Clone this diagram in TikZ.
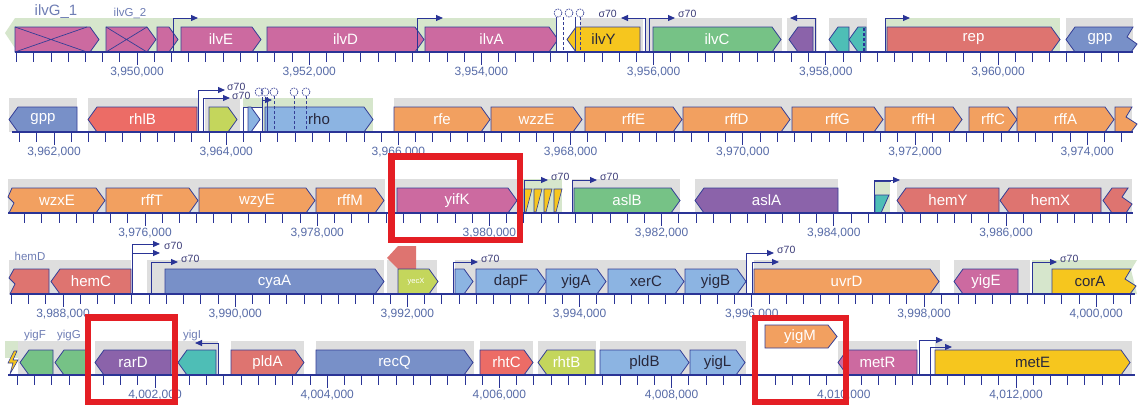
\documentclass[tikz,border=0pt]{standalone}
\usepackage{fontspec}
\setmainfont{Liberation Sans}
\usetikzlibrary{arrows.meta}
\definecolor{pk}{RGB}{204,106,160}
\definecolor{yl}{RGB}{246,198,30}
\definecolor{gn}{RGB}{118,194,134}
\definecolor{pu}{RGB}{139,99,170}
\definecolor{tl}{RGB}{78,190,182}
\definecolor{sa}{RGB}{222,116,112}
\definecolor{sr}{RGB}{236,108,102}
\definecolor{bl}{RGB}{120,144,200}
\definecolor{lb}{RGB}{140,180,226}
\definecolor{orc}{RGB}{242,160,96}
\definecolor{yg}{RGB}{196,214,92}
\definecolor{gy}{RGB}{222,222,222}
\definecolor{lg}{RGB}{214,230,204}
\definecolor{ol}{RGB}{52,62,150}
\definecolor{ax}{RGB}{42,52,150}
\definecolor{tk}{RGB}{88,108,168}
\definecolor{dt}{RGB}{40,40,60}
\definecolor{hl}{RGB}{228,30,36}
\definecolor{sg}{RGB}{60,60,120}
\definecolor{ab}{RGB}{110,125,180}
\tikzset{
 gbox/.style={draw=ol,line width=0.8pt,line join=miter},
 glab/.style={font=\fontsize{15}{15}\selectfont,inner sep=0pt},
 tlab/.style={font=\fontsize{12}{12}\selectfont,text=tk,inner sep=0pt},
 slab/.style={font=\fontsize{10.5}{10.5}\selectfont,text=sg,inner sep=0pt},
 alab/.style={font=\fontsize{11.5}{11.5}\selectfont,text=ab,inner sep=0pt},
 prom/.style={draw=ax,line width=1pt,-{Triangle[length=7pt,width=6pt]}},
 hbox/.style={draw=hl,line width=6.5pt},
 axl/.style={draw=ax,line width=2.2pt},
 tkst/.style={draw=ax,line width=0.8pt},
 term/.style={draw=ol,line width=0.7pt,fill=white,dash pattern=on 1.5pt off 1pt},
 stem/.style={draw=ol,line width=0.8pt},
 dstem/.style={draw=ol,line width=1pt,dash pattern=on 3pt off 2pt},
}
\newcommand{\gR}[6]{\draw[gbox,fill=#4] (#1,#3) -- (#1,#3-25) -- (#2-9,#3-25) -- (#2,#3-12.5) -- (#2-9,#3) -- cycle;
 \node[glab,text=#5] at ({(#1+#2)/2},#3-12.5) {#6};}
\newcommand{\gL}[6]{\draw[gbox,fill=#4] (#1,#3-12.5) -- (#1+9,#3-25) -- (#2,#3-25) -- (#2,#3) -- (#1+9,#3) -- cycle;
 \node[glab,text=#5] at ({(#1+#2)/2},#3-12.5) {#6};}
\newcommand{\bnd}[4]{\fill[#4] (#1,#3-34) rectangle (#2,#3);}
\newcommand{\tkrow}[4]{\foreach \i in {#3,...,#4}{\draw[tkst] ({#2+\i*17.22},#1) -- ({#2+\i*17.22},#1+10);}}
\newcommand{\mlab}[3]{\draw[tkst] (#1,#2) -- (#1,#2+13); \node[tlab] at (#1,#2+20) {#3};}
\begin{document}
\begin{tikzpicture}[x=1pt,y=-1pt]
\useasboundingbox (0,0) rectangle (1139,410);
\fill[white] (0,0) rectangle (1139,410);
% ================= ROW 1 (axis 52)
\fill[lg] (5,33) -- (15,18) -- (557,18) -- (557,52) -- (15,52) -- (15,48) -- cycle;
\bnd{580}{643}{52}{gy} \bnd{645}{782}{52}{gy} \bnd{787}{817}{52}{gy}
\bnd{829}{867}{52}{gy} \bnd{885}{1060}{52}{lg} \bnd{1066}{1133}{52}{gy}
\node[alab,font=\fontsize{15}{15}\selectfont] at (56,12) {ilvG\_1};
\node[alab] at (130,13) {ilvG\_2};
\gR{15}{99}{52}{pk}{white}{}
\draw[ol,line width=0.7pt] (15,27) -- (87,52) (15,52) -- (87,27);
\gR{106}{156}{52}{pk}{white}{}
\draw[ol,line width=0.7pt] (106,27) -- (147,52) (106,52) -- (147,27);
\gR{157}{178}{52}{pk}{white}{}
\gR{181}{261}{52}{pk}{white}{ilvE}
\gR{267}{424}{52}{pk}{white}{ilvD}
\gR{425}{558}{52}{pk}{white}{ilvA}
\fill[white] (556,18) rectangle (576,52);
\gL{567}{640}{52}{yl}{dt}{ilvY}
\draw[stem] (556,17) -- (556,52) (575,17) -- (575,52);
\draw[dstem] (563,17) -- (563,52) (580,17) -- (580,52);
\draw[term] (558,13) circle (4pt) (569,13) circle (4pt) (580,13) circle (4pt);
\gR{653}{781}{52}{gn}{white}{ilvC}
\gL{789}{813}{52}{pu}{white}{}
\gL{829}{849}{52}{tl}{white}{}
\gL{849}{866}{52}{tl}{white}{}
\draw[dstem,draw=ax,line width=1.4pt] (864,28) -- (864,52);
\gR{887}{1060}{52}{sa}{white}{rep}
\draw[gbox,fill=bl] (1066,39.5) -- (1075,27) -- (1133,27) -- (1127,37) -- (1137,44) -- (1131,52) -- (1075,52) -- cycle;
\node[glab,text=white] at (1100,39.5) {gpp};
\draw[prom] (173,52) -- (173,18) -- (198,18);
\draw[prom] (417,52) -- (417,18) -- (443,18);
\draw[prom] (645,52) -- (645,18) -- (621,18);
\node[slab,anchor=east] at (617,14) {σ70};
\draw[prom] (649,52) -- (649,18) -- (675,18);
\node[slab,anchor=west] at (678,14) {σ70};
\draw[prom] (815,52) -- (815,18) -- (790,18);
\draw[prom] (885,52) -- (885,18) -- (910,18);
\draw[axl] (15,52) -- (1133,52);
\tkrow{52}{137}{-7}{57}
\mlab{137}{52}{3,950,000} \mlab{309.2}{52}{3,952,000} \mlab{481.4}{52}{3,954,000}
\mlab{653.6}{52}{3,956,000} \mlab{825.8}{52}{3,958,000} \mlab{998}{52}{3,960,000}
% ================= ROW 2 (axis 132)
\bnd{9}{77}{132}{gy} \bnd{88}{198}{132}{gy} \bnd{205}{240}{132}{gy}
\bnd{243}{373}{132}{lg} \bnd{394}{1132}{132}{gy}
\gL{9}{77}{132}{bl}{white}{gpp}
\gL{88}{197}{132}{sr}{white}{rhlB}
\gR{209}{237}{132}{yg}{white}{}
\draw[ol,line width=0.6pt,fill=white] (243,107) rectangle (262,132);
\gR{248}{260}{132}{lb}{white}{}
\gR{265}{373}{132}{lb}{dt}{rho}
\draw[stem] (262,97) -- (262,132) (267,97) -- (267,132);
\draw[dstem] (274,96) -- (274,132) (294,96) -- (294,132) (306,96) -- (306,132);
\draw[term] (259,92) circle (4pt) (265,92) circle (4pt) (274,92) circle (4pt) (294,92) circle (4pt) (306,92) circle (4pt);
\draw[prom] (262,132) -- (262,100) -- (272,100);
\draw[prom] (198,132) -- (198,90) -- (225,90);
\node[slab,anchor=west] at (227,87) {σ70};
\draw[prom] (203,132) -- (203,98) -- (230,98);
\node[slab,anchor=west] at (232,96) {σ70};
\gR{394}{490}{132}{orc}{white}{rfe}
\gR{491}{582}{132}{orc}{white}{wzzE}
\gR{585}{682}{132}{orc}{white}{rffE}
\gR{683}{790}{132}{orc}{white}{rffD}
\gR{792}{883}{132}{orc}{white}{rffG}
\gR{885}{962}{132}{orc}{white}{rffH}
\gR{969}{1017}{132}{orc}{white}{rffC}
\gR{1017}{1114}{132}{orc}{white}{rffA}
\draw[gbox,fill=orc] (1115,132) -- (1115,107) -- (1132,107) -- (1126,117) -- (1137,124) -- (1131,132) -- cycle;
\draw[axl] (12,132) -- (1133,132);
\tkrow{132}{54}{-2}{62}
\mlab{54}{132}{3,962,000} \mlab{226.2}{132}{3,964,000} \mlab{398.4}{132}{3,966,000}
\mlab{570.6}{132}{3,968,000} \mlab{742.8}{132}{3,970,000} \mlab{915}{132}{3,972,000}
\mlab{1087.2}{132}{3,974,000}
% ================= ROW 3 (axis 213)
\bnd{8}{385}{213}{gy} \bnd{395}{520}{213}{gy} \bnd{522}{562}{213}{lg}
\bnd{572}{680}{213}{gy} \bnd{695}{838}{213}{gy} \bnd{897}{1132}{213}{gy}
\draw[gbox,fill=orc] (12,188) -- (8,197) -- (14,203) -- (9,213) -- (96,213) -- (105,200.5) -- (96,188) -- cycle;
\node[glab,text=white] at (57,200.5) {wzxE};
\gR{106}{198}{213}{orc}{white}{rffT}
\gR{199}{315}{213}{orc}{white}{wzyE}
\gR{316}{384}{213}{orc}{white}{rffM}
\gR{397}{517}{213}{pk}{white}{yifK}
\foreach \t in {524,534,544,554}{\draw[gbox,fill=yl,line width=0.6pt] (\t,189) -- (\t+8,189) -- (\t+2,212) -- (\t,212) -- cycle;}
\draw[prom] (524,213) -- (524,180) -- (548,180);
\node[slab,anchor=west] at (551,177) {σ70};
\draw[prom] (572,213) -- (572,180) -- (597,180);
\node[slab,anchor=west] at (600,177) {σ70};
\gR{574}{680}{213}{gn}{white}{aslB}
\gL{695}{838}{213}{pu}{white}{aslA}
\draw[ol,line width=0.6pt,fill=lg] (874,181) rectangle (890,213);
\fill[white] (890,182) rectangle (896,212);
\draw[gbox,fill=tl] (875,195) -- (889,195) -- (881,213) -- (875,213) -- cycle;
\draw[prom] (874,213) -- (874,180) -- (900,180);
\gL{897}{999}{213}{sa}{white}{hemY}
\gL{1000}{1101}{213}{sa}{white}{hemX}
\draw[gbox,fill=sa] (1103,200.5) -- (1112,188) -- (1128,188) -- (1122,197) -- (1132,204) -- (1126,213) -- (1112,213) -- cycle;
\draw[axl] (8,213) -- (1133,213);
\tkrow{213}{145}{-7}{57}
\mlab{145}{213}{3,976,000} \mlab{317.2}{213}{3,978,000} \mlab{489.4}{213}{3,980,000}
\mlab{661.6}{213}{3,982,000} \mlab{833.8}{213}{3,984,000} \mlab{1006}{213}{3,986,000}
% ================= ROW 4 (axis 294)
\bnd{9}{131}{294}{gy} \bnd{147}{384}{294}{gy} \bnd{387}{437}{294}{gy}
\bnd{455}{746}{294}{gy} \bnd{754}{940}{294}{gy} \bnd{954}{1030}{294}{gy}
\fill[lg] (1032,260) -- (1137,260) -- (1131,270) -- (1137,294) -- (1032,294) -- cycle;
\node[alab] at (30,256) {hemD};
\draw[gbox,fill=sa] (14,269) -- (9,278) -- (15,284) -- (10,294) -- (49,294) -- (49,269) -- cycle;
\gL{51}{131}{294}{sa}{white}{hemC}
\draw[prom] (132,294) -- (132,244) -- (160,244);
\node[slab,anchor=west] at (164,246) {σ70};
\draw[prom] (132,253) -- (160,253);
\draw[prom] (151,294) -- (151,262) -- (178,262);
\node[slab,anchor=west] at (181,259) {σ70};
\gR{165}{384}{294}{bl}{white}{cyaA}
\draw[gbox,fill=sa,draw=none] (387,258) -- (398,246) -- (416,246) -- (416,269) -- (398,269) -- cycle;
\draw[gbox,fill=yg] (398,294) -- (398,269) -- (429,269) -- (438,281.5) -- (429,294) -- cycle;
\node[font=\fontsize{7.5}{7.5}\selectfont,text=white] at (416,281.5) {yecX};
\draw[prom] (453,294) -- (453,262) -- (478,262);
\node[slab,anchor=west] at (481,259) {σ70};
\gR{455}{473}{294}{lb}{white}{}
\gR{476}{546}{294}{lb}{dt}{dapF}
\gR{546}{606}{294}{lb}{dt}{yigA}
\gR{608}{684}{294}{lb}{dt}{xerC}
\gR{685}{746}{294}{lb}{dt}{yigB}
\draw[prom] (746,294) -- (746,253) -- (774,253);
\node[slab,anchor=west] at (777,250) {σ70};
\draw[prom] (752,294) -- (752,262) -- (779,262);
\gR{754}{939}{294}{orc}{white}{uvrD}
\gL{954}{1018}{294}{pk}{white}{yigE}
\draw[prom] (1032,294) -- (1032,262) -- (1057,262);
\node[slab,anchor=west] at (1060,259) {σ70};
\draw[gbox,fill=yl] (1052,269) -- (1131,269) -- (1125,279) -- (1136,286) -- (1130,294) -- (1052,294) -- cycle;
\node[glab,text=dt] at (1090,281.5) {corA};
\draw[axl] (10,294) -- (1135,294);
\tkrow{294}{63}{-3}{62}
\mlab{63}{294}{3,988,000} \mlab{235.2}{294}{3,990,000} \mlab{407.4}{294}{3,992,000}
\mlab{579.6}{294}{3,994,000} \mlab{751.8}{294}{3,996,000} \mlab{924}{294}{3,998,000}
\mlab{1096.2}{294}{4,000,000}
% ================= ROW 5 (axis 375)
\fill[lg] (5,341) rectangle (18,358);
\bnd{18}{89}{375}{gy} \bnd{95}{218}{375}{gy} \bnd{231}{304}{375}{gy}
\bnd{316}{474}{375}{gy} \bnd{480}{533}{375}{gy} \bnd{538}{596}{375}{gy}
\bnd{600}{746}{375}{gy} \bnd{838}{917}{375}{gy} \bnd{935}{1132}{375}{gy}
\draw[gbox,fill=yl,line width=0.6pt] (14,351) -- (8,363) -- (13,363) -- (10,374) -- (18,360) -- (13,360) -- (17,351) -- cycle;
\node[alab] at (35,336) {yigF};
\node[alab] at (69,336) {yigG};
\gL{20}{53}{375}{gn}{white}{}
\gL{55}{89}{375}{gn}{white}{}
\gL{95}{171}{375}{pu}{white}{rarD}
\gL{178}{216}{375}{tl}{white}{}
\node[alab] at (192,336) {yigI};
\draw[prom] (218,375) -- (218,343) -- (195,343);
\gR{231}{304}{375}{sa}{white}{pldA}
\gR{316}{473}{375}{bl}{white}{recQ}
\gR{480}{533}{375}{sr}{white}{rhtC}
\gL{538}{595}{375}{yg}{white}{rhtB}
\gR{600}{689}{375}{lb}{dt}{pldB}
\gR{690}{745}{375}{lb}{dt}{yigL}
\draw[gbox,fill=orc] (765,348) -- (765,325) -- (828,325) -- (837,336.5) -- (828,348) -- cycle;
\node[glab,text=white] at (800,336.5) {yigM};
\gL{838}{917}{375}{pk}{white}{metR}
\draw[prom] (919,375) -- (919,340) -- (943,340);
\draw[prom] (930,375) -- (930,347) -- (952,347);
\gR{935}{1130}{375}{yl}{dt}{metE}
\draw[axl] (8,375) -- (1135,375);
\tkrow{375}{155}{-8}{56}
\mlab{155}{375}{4,002,000} \mlab{327.2}{375}{4,004,000} \mlab{499.4}{375}{4,006,000}
\mlab{671.6}{375}{4,008,000} \mlab{843.8}{375}{4,010,000} \mlab{1016}{375}{4,012,000}
% ================= highlight boxes
\draw[hbox] (391.5,156.5) rectangle (520,240);
\draw[hbox] (88,317.5) rectangle (175,402);
\draw[hbox] (755,318) rectangle (846,402);
\end{tikzpicture}
\end{document}
